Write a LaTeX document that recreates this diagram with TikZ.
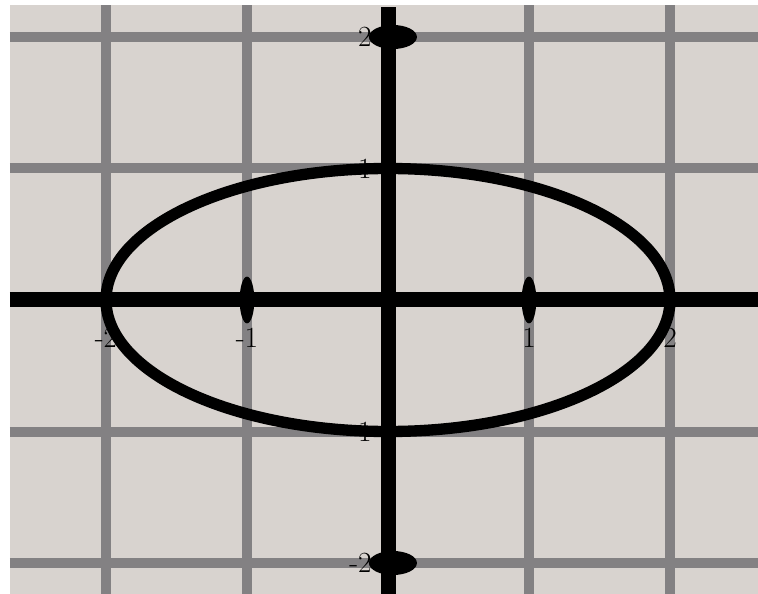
\documentclass[tikz,border=0pt]{standalone}
\usepackage{xcolor}
\usepackage{tikz}
\usetikzlibrary{positioning, calc}
\definecolor{plotback}{RGB}{216, 211, 207}
\definecolor{gridgray}{RGB}{131, 129, 131}
\tikzset{
  % Grid lines
  gridline/.style={line width=0.3cm, color=gridgray},
  % Coordinate axes
  axisline/.style={line width=0.45cm, color=black},
  % Curve
  curve/.style={line width=0.34cm, color=black},
  % Tick blobs
  tickmark/.style={fill=black, draw=none},
  % Axis labels
  lbl/.style={font=\fontsize{25pt}{27pt}\selectfont, inner sep=0pt, text=black},
}

\begin{document}
\begin{tikzpicture}[x=4.23cm, y=3.945cm]
  \useasboundingbox (-2.7518,-2.2357) rectangle (2.6241,2.2814);
  \fill[plotback] (-2.6809,-2.2357) rectangle (2.6241,2.2433);
  % grid
  \foreach \g in {-2,-1,1,2} {
    \draw[gridline] (\g,-2.2357) -- (\g,2.2433);
    \draw[gridline] (-2.6809,\g) -- (2.6241,\g);
  }
  % labels
  \foreach \v in {-2,-1,1,2} {
    \node[lbl] (x\v) at (\v,-0.29) {\v};
    \node[lbl, anchor=east] (y\v) at (-0.115,\v) {\v};
  }
  % axes
  \draw[axisline] (-2.6809,0) -- (2.6241,0);
  \draw[axisline] (0,-2.2357) -- (0,2.228);
  % ticks
  \foreach \t in {-1,1}
    \fill[tickmark] (\t,0) ellipse [x radius=0.22cm, y radius=0.7cm];
  \foreach \t in {-2,2}
    \fill[tickmark] (0.035,\t) ellipse [x radius=0.72cm, y radius=0.36cm];
  % ellipse
  \draw[curve] (0,0) ellipse [x radius=2, y radius=1];
\end{tikzpicture}
\end{document}
